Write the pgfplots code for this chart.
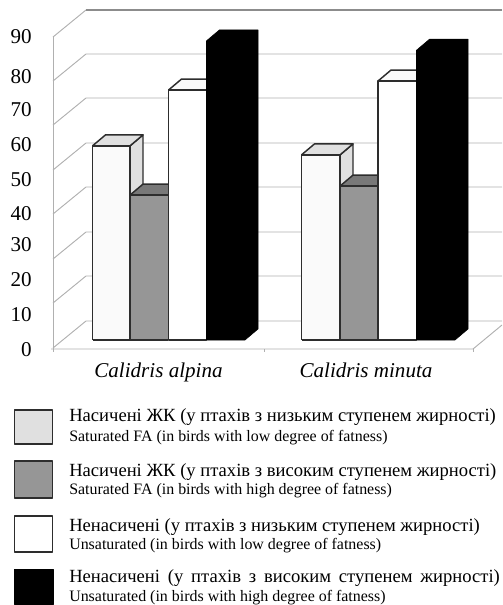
\documentclass[border=0pt]{standalone}
\usepackage{fontspec}
\setmainfont{Liberation Serif}
\usepackage{pgfplots}
\pgfplotsset{compat=1.18}
\definecolor{gridgray}{RGB}{176,176,176}
\definecolor{topgray}{RGB}{140,140,140}
\definecolor{edge}{RGB}{45,45,45}
\definecolor{lowfront}{RGB}{250,250,250}
\definecolor{lowside}{RGB}{224,224,224}
\definecolor{highfront}{RGB}{150,150,150}
\definecolor{hightop}{RGB}{120,120,120}
% picture pixels (from the top) to chart values
\newcommand{\py}[1]{(340-(#1))/3.46667}
\newcommand{\back}[1]{\draw[gridgray, line width=0.7pt] (axis cs:53,{\py{#1+27}}) -- (axis cs:86,{\py{#1}}) -- (axis cs:502,{\py{#1}});}
\newcommand{\legbox}[3]{\draw[edge, line width=1.1pt, fill=#1] (axis cs:14.5,{\py{#2}}) rectangle (axis cs:52.5,{\py{#3}});}
\newcommand{\legtext}[2]{\node[anchor=base west, inner sep=0pt] at (axis cs:69,{\py{#1}}) {#2};}
\newcommand{\uatext}{\fontsize{13.95}{15}\selectfont}
\newcommand{\entext}{\fontsize{11.95}{13}\selectfont}
\begin{document}
\begin{tikzpicture}
  \begin{axis}[
    scale only axis, width=376.5pt, height=453.75pt,
    xmin=0, xmax=502, ymin=-76.44, ymax=98.08,
    axis line style={draw=none}, major tick style={draw=none},
    ytick={-2.88,7.21,17.31,27.4,36.34,46.15,56.25,66.34,75.9,87.4},
    yticklabels={0,10,20,30,40,50,60,70,80,90},
    y tick label style={font=\fontsize{15.8}{16}\selectfont, anchor=east, inner sep=0pt, xshift=24pt},
    xtick={158.5,366},
    xticklabels={Calidris alpina,Calidris minuta},
    x tick label style={font=\fontsize{15.8}{16}\selectfont\itshape, anchor=base, inner sep=0pt, yshift=170.25pt},
    no markers, line join=round,
  ]
    % walls and floor
    \back{10} \back{54} \back{98} \back{143} \back{187} \back{232} \back{276} \back{321}
    \draw[topgray, line width=1pt] (axis cs:86,{\py{10}}) -- (axis cs:502,{\py{10}});
    \draw[gridgray, line width=0.7pt] (axis cs:53,{\py{37}}) -- (axis cs:53,{\py{352}});
    \draw[gridgray, line width=0.7pt] (axis cs:51,{\py{349}}) -- (axis cs:473,{\py{349}}) -- (axis cs:502,{\py{325}});
    \draw[gridgray, line width=0.7pt] (axis cs:264,{\py{349}}) -- (axis cs:264,{\py{352}});
    \draw[gridgray, line width=0.7pt] (axis cs:473,{\py{349}}) -- (axis cs:473,{\py{352}});

    % Calidris alpina: 56, 41.8, 72.1, 86.3
    \addplot[draw=edge, line width=1.1pt, fill=lowside] coordinates {(130,0) (143,3.17) (143,59.17) (130,56) (130,0)};
    \addplot[draw=edge, line width=1.1pt, fill=lowside] coordinates {(92.5,56) (130,56) (143,59.17) (105.5,59.17) (92.5,56)};
    \addplot[draw=edge, line width=1.1pt, fill=lowfront] coordinates {(92.5,0) (130,0) (130,56) (92.5,56) (92.5,0)};
    \addplot[draw=edge, line width=1.1pt, fill=hightop] coordinates {(130,41.8) (168.5,41.8) (181.5,44.97) (143,44.97) (130,41.8)};
    \addplot[draw=edge, line width=1.1pt, fill=highfront] coordinates {(130,0) (168.5,0) (168.5,41.8) (130,41.8) (130,0)};
    \addplot[draw=edge, line width=1.1pt, fill=lowfront] coordinates {(168.5,72.1) (206.5,72.1) (219.5,75.27) (181.5,75.27) (168.5,72.1)};
    \addplot[draw=edge, line width=1.1pt, fill=white] coordinates {(168.5,0) (206.5,0) (206.5,72.1) (168.5,72.1) (168.5,0)};
    \addplot[draw=black, fill=black] coordinates {(206.5,0) (245,0) (258,3.17) (258,89.47) (219.5,89.47) (206.5,86.3) (206.5,0)};

    % Calidris minuta: 53.4, 44.4, 74.7, 83.6
    \addplot[draw=edge, line width=1.1pt, fill=lowside] coordinates {(340,0) (353,3.17) (353,56.57) (340,53.4) (340,0)};
    \addplot[draw=edge, line width=1.1pt, fill=lowside] coordinates {(301.5,53.4) (340,53.4) (353,56.57) (314.5,56.57) (301.5,53.4)};
    \addplot[draw=edge, line width=1.1pt, fill=lowfront] coordinates {(301.5,0) (340,0) (340,53.4) (301.5,53.4) (301.5,0)};
    \addplot[draw=edge, line width=1.1pt, fill=hightop] coordinates {(340,44.4) (378,44.4) (391,47.57) (353,47.57) (340,44.4)};
    \addplot[draw=edge, line width=1.1pt, fill=highfront] coordinates {(340,0) (378,0) (378,44.4) (340,44.4) (340,0)};
    \addplot[draw=edge, line width=1.1pt, fill=lowfront] coordinates {(378,74.7) (416.5,74.7) (429.5,77.87) (391,77.87) (378,74.7)};
    \addplot[draw=edge, line width=1.1pt, fill=white] coordinates {(378,0) (416.5,0) (416.5,74.7) (378,74.7) (378,0)};
    \addplot[draw=black, fill=black] coordinates {(416.5,0) (455,0) (468,3.17) (468,86.77) (429.5,86.77) (416.5,83.6) (416.5,0)};

    % legend
    \legbox{lowside}{410}{444}
    \legbox{highfront}{461}{498}
    \legbox{white}{516}{552}
    \draw[black, fill=black] (axis cs:14,{\py{569}}) rectangle (axis cs:53,{\py{604}});
    \legtext{421}{\uatext Насичені ЖК (у птахів з низьким ступенем жирності)}
    \legtext{441}{\entext Saturated FA (in birds with low degree of fatness)}
    \legtext{476}{\uatext Насичені ЖК (у птахів з високим ступенем жирності)}
    \legtext{494}{\entext Saturated FA (in birds with high degree of fatness)}
    \legtext{531}{\uatext\makebox[308pt][s]{Ненасичені (у птахів з низьким ступенем жирності)}}
    \legtext{549}{\entext Unsaturated (in birds with low degree of fatness)}
    \legtext{582}{\uatext\makebox[323pt][s]{Ненасичені (у птахів з високим ступенем жирності)}}
    \legtext{601}{\entext Unsaturated (in birds with high degree of fatness)}
  \end{axis}
\end{tikzpicture}
\end{document}
